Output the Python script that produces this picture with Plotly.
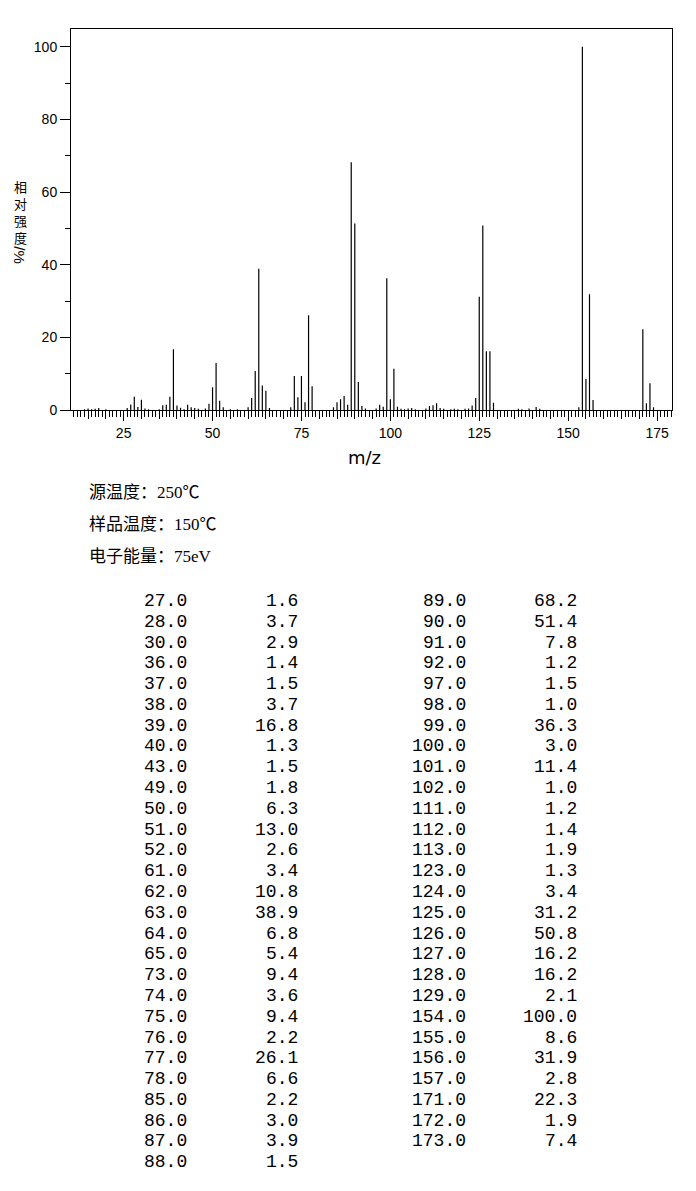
import plotly.graph_objects as go

# reference picture size; the page body adds an 8px margin, so the figure is 8px smaller
W, H = 696, 1191
OFF = 8
FW, FH = W - OFF, H - OFF

# peaks listed in the table (m/z, relative intensity %)
table_mz = [27, 28, 30, 36, 37, 38, 39, 40, 43, 49, 50, 51, 52, 61, 62, 63, 64, 65,
            73, 74, 75, 76, 77, 78, 85, 86, 87, 88,
            89, 90, 91, 92, 97, 98, 99, 100, 101, 102, 111, 112, 113, 123, 124, 125,
            126, 127, 128, 129, 154, 155, 156, 157, 171, 172, 173]
table_int = [1.6, 3.7, 2.9, 1.4, 1.5, 3.7, 16.8, 1.3, 1.5, 1.8, 6.3, 13.0, 2.6, 3.4,
             10.8, 38.9, 6.8, 5.4, 9.4, 3.6, 9.4, 2.2, 26.1, 6.6, 2.2, 3.0, 3.9, 1.5,
             68.2, 51.4, 7.8, 1.2, 1.5, 1.0, 36.3, 3.0, 11.4, 1.0, 1.2, 1.4, 1.9, 1.3,
             3.4, 31.2, 50.8, 16.2, 16.2, 2.1, 100.0, 8.6, 31.9, 2.8, 22.3, 1.9, 7.4]

# small peaks (< 1 %) only visible in the plot
minor_mz = [14, 15, 16, 17, 18, 20, 26, 29, 31, 32, 35, 41, 42, 44, 45, 46, 48, 53,
            55, 57, 60, 66, 72, 84, 93, 96, 103, 104, 105, 106, 107, 110, 114, 115,
            117, 118, 119, 121, 122, 136, 137, 139, 141, 142, 153, 174]
minor_int = [0.3, 0.5, 0.3, 0.4, 0.6, 0.3, 0.6, 0.9, 0.5, 0.3, 0.3, 0.7, 0.3, 0.8,
             0.6, 0.4, 0.5, 0.8, 0.3, 0.3, 0.8, 0.6, 0.8, 0.8, 0.5, 0.5, 0.4, 0.3,
             0.5, 0.6, 0.3, 0.5, 0.6, 0.4, 0.3, 0.4, 0.3, 0.4, 0.5, 0.4, 0.3, 0.5,
             0.9, 0.4, 0.8, 0.8]

info_lines = ["源温度：250℃", "样品温度：150℃", "电子能量：75eV"]
ylabel_chars = ["相", "对", "强", "度"]

# stick spectrum: one vertical segment per peak, separated by None
stick_x, stick_y = [], []
for mz, inten in zip(minor_mz + table_mz, minor_int + table_int):
    stick_x += [mz, mz, None]
    stick_y += [0, inten, None]

fig = go.Figure()

fig.add_trace(go.Scatter(x=stick_x, y=stick_y, mode="lines",
                         line=dict(color="black", width=1.2),
                         showlegend=False, hoverinfo="x+y"))
# dummy trace so the 5-unit tick axis is drawn
fig.add_trace(go.Scatter(x=[], y=[], xaxis="x2", yaxis="y", showlegend=False))

def px_x(p):
    return (p - OFF) / FW

def px_y(p):
    return 1 - (p - OFF) / FH

xdom = [px_x(71), px_x(672)]
xr = [10.2, 179.2]

fig.update_layout(
    width=FW, height=FH, autosize=False,
    margin=dict(l=0, r=0, t=0, b=0),
    paper_bgcolor="white", plot_bgcolor="white",
    font=dict(family="Liberation Sans, DejaVu Sans", color="black"),
    xaxis=dict(domain=xdom, range=xr, anchor="y",
               showline=True, linecolor="black", linewidth=1, mirror=True,
               showgrid=False, zeroline=False,
               ticks="outside", tick0=0, dtick=25, ticklen=10, tickcolor="black",
               tickfont=dict(size=14, family="Liberation Sans"),
               minor=dict(ticks="outside", dtick=1, tick0=0, ticklen=6,
                          tickcolor="black", showgrid=False)),
    xaxis2=dict(domain=xdom, range=xr, overlaying="x", anchor="y", side="bottom",
                showline=False, showgrid=False, zeroline=False, showticklabels=False,
                ticks="outside", tick0=0, dtick=5, ticklen=8, tickcolor="black"),
    yaxis=dict(domain=[px_y(413), px_y(29)], range=[0, 104.9], anchor="x",
               showline=True, linecolor="black", linewidth=1, mirror=True,
               showgrid=False, zeroline=False,
               ticks="outside", tick0=0, dtick=20, ticklen=10, tickcolor="black",
               tickfont=dict(size=14, family="Liberation Sans"),
               minor=dict(ticks="outside", dtick=10, ticklen=5,
                          tickcolor="black", showgrid=False)),
)

ann = []
# x title
ann.append(dict(text="m/z", x=px_x(364), y=px_y(461), xref="paper", yref="paper",
                xanchor="center", yanchor="middle", showarrow=False,
                font=dict(size=18, family="DejaVu Sans")))
# y title: stacked characters, then the rotated "/%"
ann.append(dict(text="<br>".join(ylabel_chars), x=px_x(20), y=px_y(213),
                xref="paper", yref="paper", xanchor="center", yanchor="middle",
                showarrow=False, font=dict(size=13, family="Noto Sans CJK SC")))
ann.append(dict(text="/%", x=px_x(20), y=px_y(257), xref="paper", yref="paper",
                xanchor="center", yanchor="middle", textangle=90, showarrow=False,
                font=dict(size=15, family="Liberation Sans")))

# conditions
for i, line in enumerate(info_lines):
    ann.append(dict(text=line, x=px_x(87), y=px_y(496 + i * 32), xref="paper", yref="paper",
                    xanchor="left", yanchor="middle", showarrow=False,
                    font=dict(size=17, family="Liberation Serif, Noto Sans CJK SC")))

# peak table, two column pairs
n_left = 28
row_h = 20.93
cols = [(188, 299), (467, 578)]
for k, (mz, inten) in enumerate(zip(table_mz, table_int)):
    c = 0 if k < n_left else 1
    r = k if k < n_left else k - n_left
    yy = px_y(605 + r * row_h)
    for xr_px, txt in zip(cols[c], ["%.1f" % mz, "%.1f" % inten]):
        ann.append(dict(text=txt, x=px_x(xr_px + 1), y=yy, xref="paper", yref="paper",
                        xanchor="right", yanchor="middle", showarrow=False,
                        font=dict(size=18, family="Liberation Mono")))

fig.update_layout(annotations=ann)

fig.write_html("out.html")
